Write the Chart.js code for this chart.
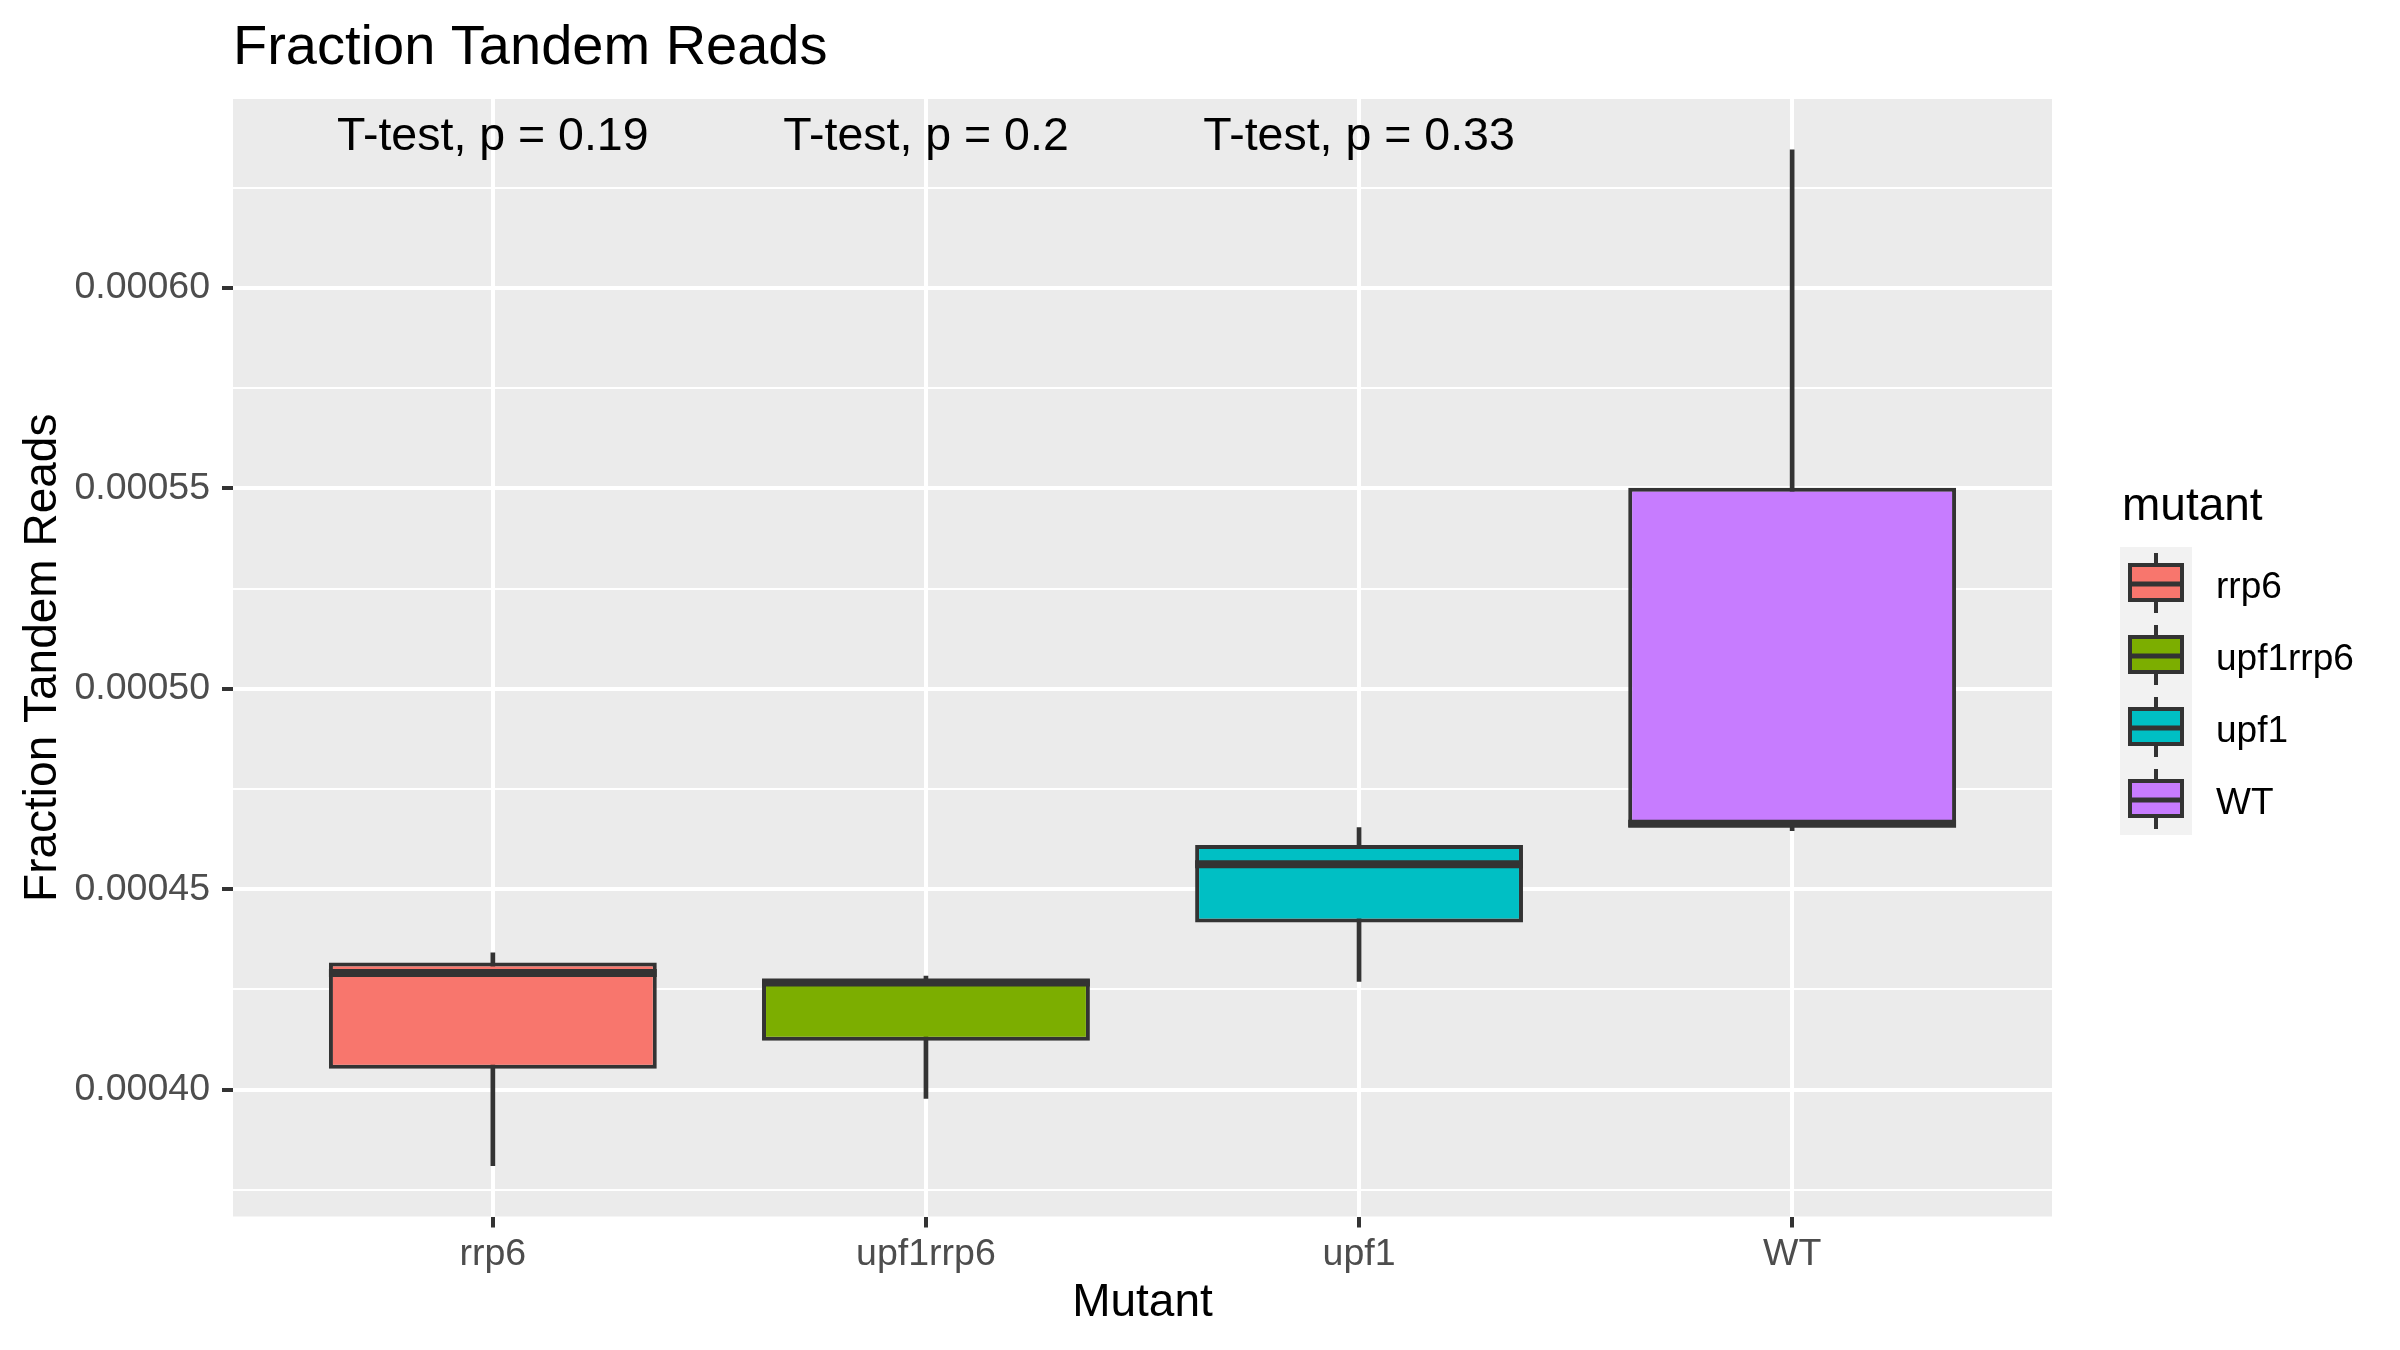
<!DOCTYPE html>
<html>
<head>
<meta charset="utf-8">
<script src="https://cdn.jsdelivr.net/npm/chart.js@4.4.1/dist/chart.umd.min.js"></script>
<style>
  html, body { margin: 0; padding: 0; background: #ffffff; }
  #wrap { width: 2400px; height: 1350px; }
</style>
</head>
<body>
<div id="wrap"><canvas id="c" width="2400" height="1350"></canvas></div>
<script>
// ---- data ----
const categories = ['rrp6', 'upf1rrp6', 'upf1', 'WT'];
const whiskerMin = [0.0003810, 0.0003978, 0.0004270, 0.0004646];
const q1Vals     = [0.0004052, 0.0004122, 0.0004417, 0.0004655];
const medianVals = [0.0004291, 0.0004267, 0.0004562, 0.0004663];
const q3Vals     = [0.0004317, 0.0004275, 0.0004610, 0.0005502];
const whiskerMax = [0.0004341, 0.0004283, 0.0004654, 0.0006345];
const testLabels = ['T-test, p = 0.19', 'T-test, p = 0.2', 'T-test, p = 0.33', ''];
const majorTicks = [0.00040, 0.00045, 0.00050, 0.00055, 0.00060];
const minorTicks = [0.000375, 0.000425, 0.000475, 0.000525, 0.000575, 0.000625];
const fillColors = ['#F8766D', '#7CAE00', '#00BFC4', '#C77CFF'];

const FONT = '"Liberation Sans", Arial, sans-serif';
const OUTLINE = '#333333';

const dataMin = Math.min(...whiskerMin);
const dataMax = Math.max(...whiskerMax);
const span = dataMax - dataMin;

function isMajor(v) { return majorTicks.some(m => Math.abs(m - v) < 1e-9); }

const boxData = categories.map((c, i) => ({ x: i + 1, y: [q1Vals[i], q3Vals[i]] }));
const whiskerData = categories.map((c, i) => ({ x: i + 1, y: [whiskerMin[i], whiskerMax[i]] }));

const decorPlugin = {
  id: 'decor',
  beforeDraw(chart) {
    const ctx = chart.ctx, a = chart.chartArea;
    ctx.save();
    ctx.fillStyle = '#ffffff';
    ctx.fillRect(0, 0, chart.width, chart.height);
    ctx.fillStyle = '#EBEBEB';
    ctx.fillRect(a.left, a.top, a.right - a.left, a.bottom - a.top);
    ctx.restore();
  },
  afterDatasetsDraw(chart) {
    const ctx = chart.ctx;
    const xs = chart.scales.x, ys = chart.scales.y;
    const meta = chart.getDatasetMeta(1);
    ctx.save();
    // medians
    ctx.strokeStyle = OUTLINE;
    ctx.lineWidth = 8;
    meta.data.forEach((el, i) => {
      const y = ys.getPixelForValue(medianVals[i]);
      ctx.beginPath();
      ctx.moveTo(el.x - el.width / 2, y);
      ctx.lineTo(el.x + el.width / 2, y);
      ctx.stroke();
    });
    // test labels
    ctx.fillStyle = '#000000';
    ctx.font = '46.5px ' + FONT;
    ctx.textAlign = 'center';
    ctx.textBaseline = 'alphabetic';
    const ly = ys.getPixelForValue(dataMax);
    testLabels.forEach((t, i) => {
      if (t) ctx.fillText(t, xs.getPixelForValue(i + 1), ly);
    });
    ctx.restore();
  },
  afterDraw(chart) {
    const ctx = chart.ctx, a = chart.chartArea;
    ctx.save();
    ctx.fillStyle = '#000000';
    // title
    ctx.font = '56px ' + FONT;
    ctx.textAlign = 'left';
    ctx.textBaseline = 'alphabetic';
    ctx.fillText('Fraction Tandem Reads', a.left, 64);
    // x axis title
    ctx.font = '46px ' + FONT;
    ctx.textAlign = 'center';
    ctx.fillText('Mutant', (a.left + a.right) / 2, 1316);
    // y axis title
    ctx.save();
    ctx.translate(56, (a.top + a.bottom) / 2);
    ctx.rotate(-Math.PI / 2);
    ctx.fillText('Fraction Tandem Reads', 0, 0);
    ctx.restore();
    // legend
    ctx.textAlign = 'left';
    ctx.font = '46px ' + FONT;
    ctx.fillText('mutant', 2122, 520);
    const kx = 2120, ky = 547, ks = 72;
    ctx.fillStyle = '#F2F2F2';
    ctx.fillRect(kx, ky, ks, ks * categories.length);
    categories.forEach((c, i) => {
      const cx = kx + ks / 2, cy = ky + ks * i + ks / 2;
      ctx.strokeStyle = OUTLINE;
      ctx.lineWidth = 4;
      ctx.beginPath();
      ctx.moveTo(cx, cy - 30); ctx.lineTo(cx, cy + 30);
      ctx.stroke();
      ctx.fillStyle = fillColors[i];
      ctx.fillRect(kx + 10, cy - 18, 52, 35);
      ctx.strokeRect(kx + 10, cy - 18, 52, 35);
      ctx.lineWidth = 5;
      ctx.beginPath();
      ctx.moveTo(kx + 10, cy + 1); ctx.lineTo(kx + 62, cy + 1);
      ctx.stroke();
      ctx.fillStyle = '#000000';
      ctx.font = '37px ' + FONT;
      ctx.fillText(c, 2216, cy + 14.5);
    });
    ctx.restore();
  }
};

new Chart(document.getElementById('c'), {
  type: 'bar',
  data: {
    datasets: [
      {
        label: 'whiskers',
        data: whiskerData,
        backgroundColor: OUTLINE,
        borderWidth: 0,
        barThickness: 4,
        grouped: false,
        order: 2
      },
      {
        label: 'boxes',
        data: boxData,
        backgroundColor: fillColors,
        borderColor: OUTLINE,
        borderWidth: 4,
        borderSkipped: false,
        categoryPercentage: 0.757,
        barPercentage: 1.0,
        grouped: false,
        order: 1
      }
    ]
  },
  options: {
    responsive: false,
    animation: false,
    devicePixelRatio: 1,
    layout: { padding: { left: 0, top: 99, right: 348, bottom: 0 } },
    plugins: { legend: { display: false }, tooltip: { enabled: false }, title: { display: false } },
    scales: {
      x: {
        type: 'linear',
        min: 0.4,
        max: 4.6,
        offset: false,
        afterBuildTicks(scale) { scale.ticks = categories.map((c, i) => ({ value: i + 1 })); },
        afterFit(scale) { scale.height = 133.5; },
        border: { display: false },
        grid: { offset: false, color: '#ffffff', lineWidth: 4, drawTicks: true, tickLength: 11, tickColor: OUTLINE, tickWidth: 4 },
        ticks: {
          autoSkip: false,
          maxRotation: 0,
          padding: 5,
          color: '#4D4D4D',
          font: { family: FONT, size: 37.5 },
          callback: (v) => categories[Math.round(v) - 1] || ''
        }
      },
      y: {
        type: 'linear',
        min: dataMin - 0.05 * span,
        max: dataMax + 0.05 * span,
        afterBuildTicks(scale) {
          scale.ticks = [...minorTicks, ...majorTicks].sort((p, q) => p - q).map(v => ({ value: v }));
        },
        afterFit(scale) { scale.width = 233; },
        border: { display: false },
        grid: {
          color: '#ffffff',
          lineWidth: (c) => (c.tick && isMajor(c.tick.value)) ? 4 : 2,
          drawTicks: true,
          tickLength: 11,
          tickWidth: 4,
          tickColor: (c) => (c.tick && isMajor(c.tick.value)) ? OUTLINE : 'rgba(0,0,0,0)'
        },
        ticks: {
          autoSkip: false,
          padding: 12,
          color: '#4D4D4D',
          font: { family: FONT, size: 37.5 },
          callback: (v) => isMajor(v) ? v.toFixed(5) : ''
        }
      }
    }
  },
  plugins: [decorPlugin]
});
</script>
</body>
</html>
